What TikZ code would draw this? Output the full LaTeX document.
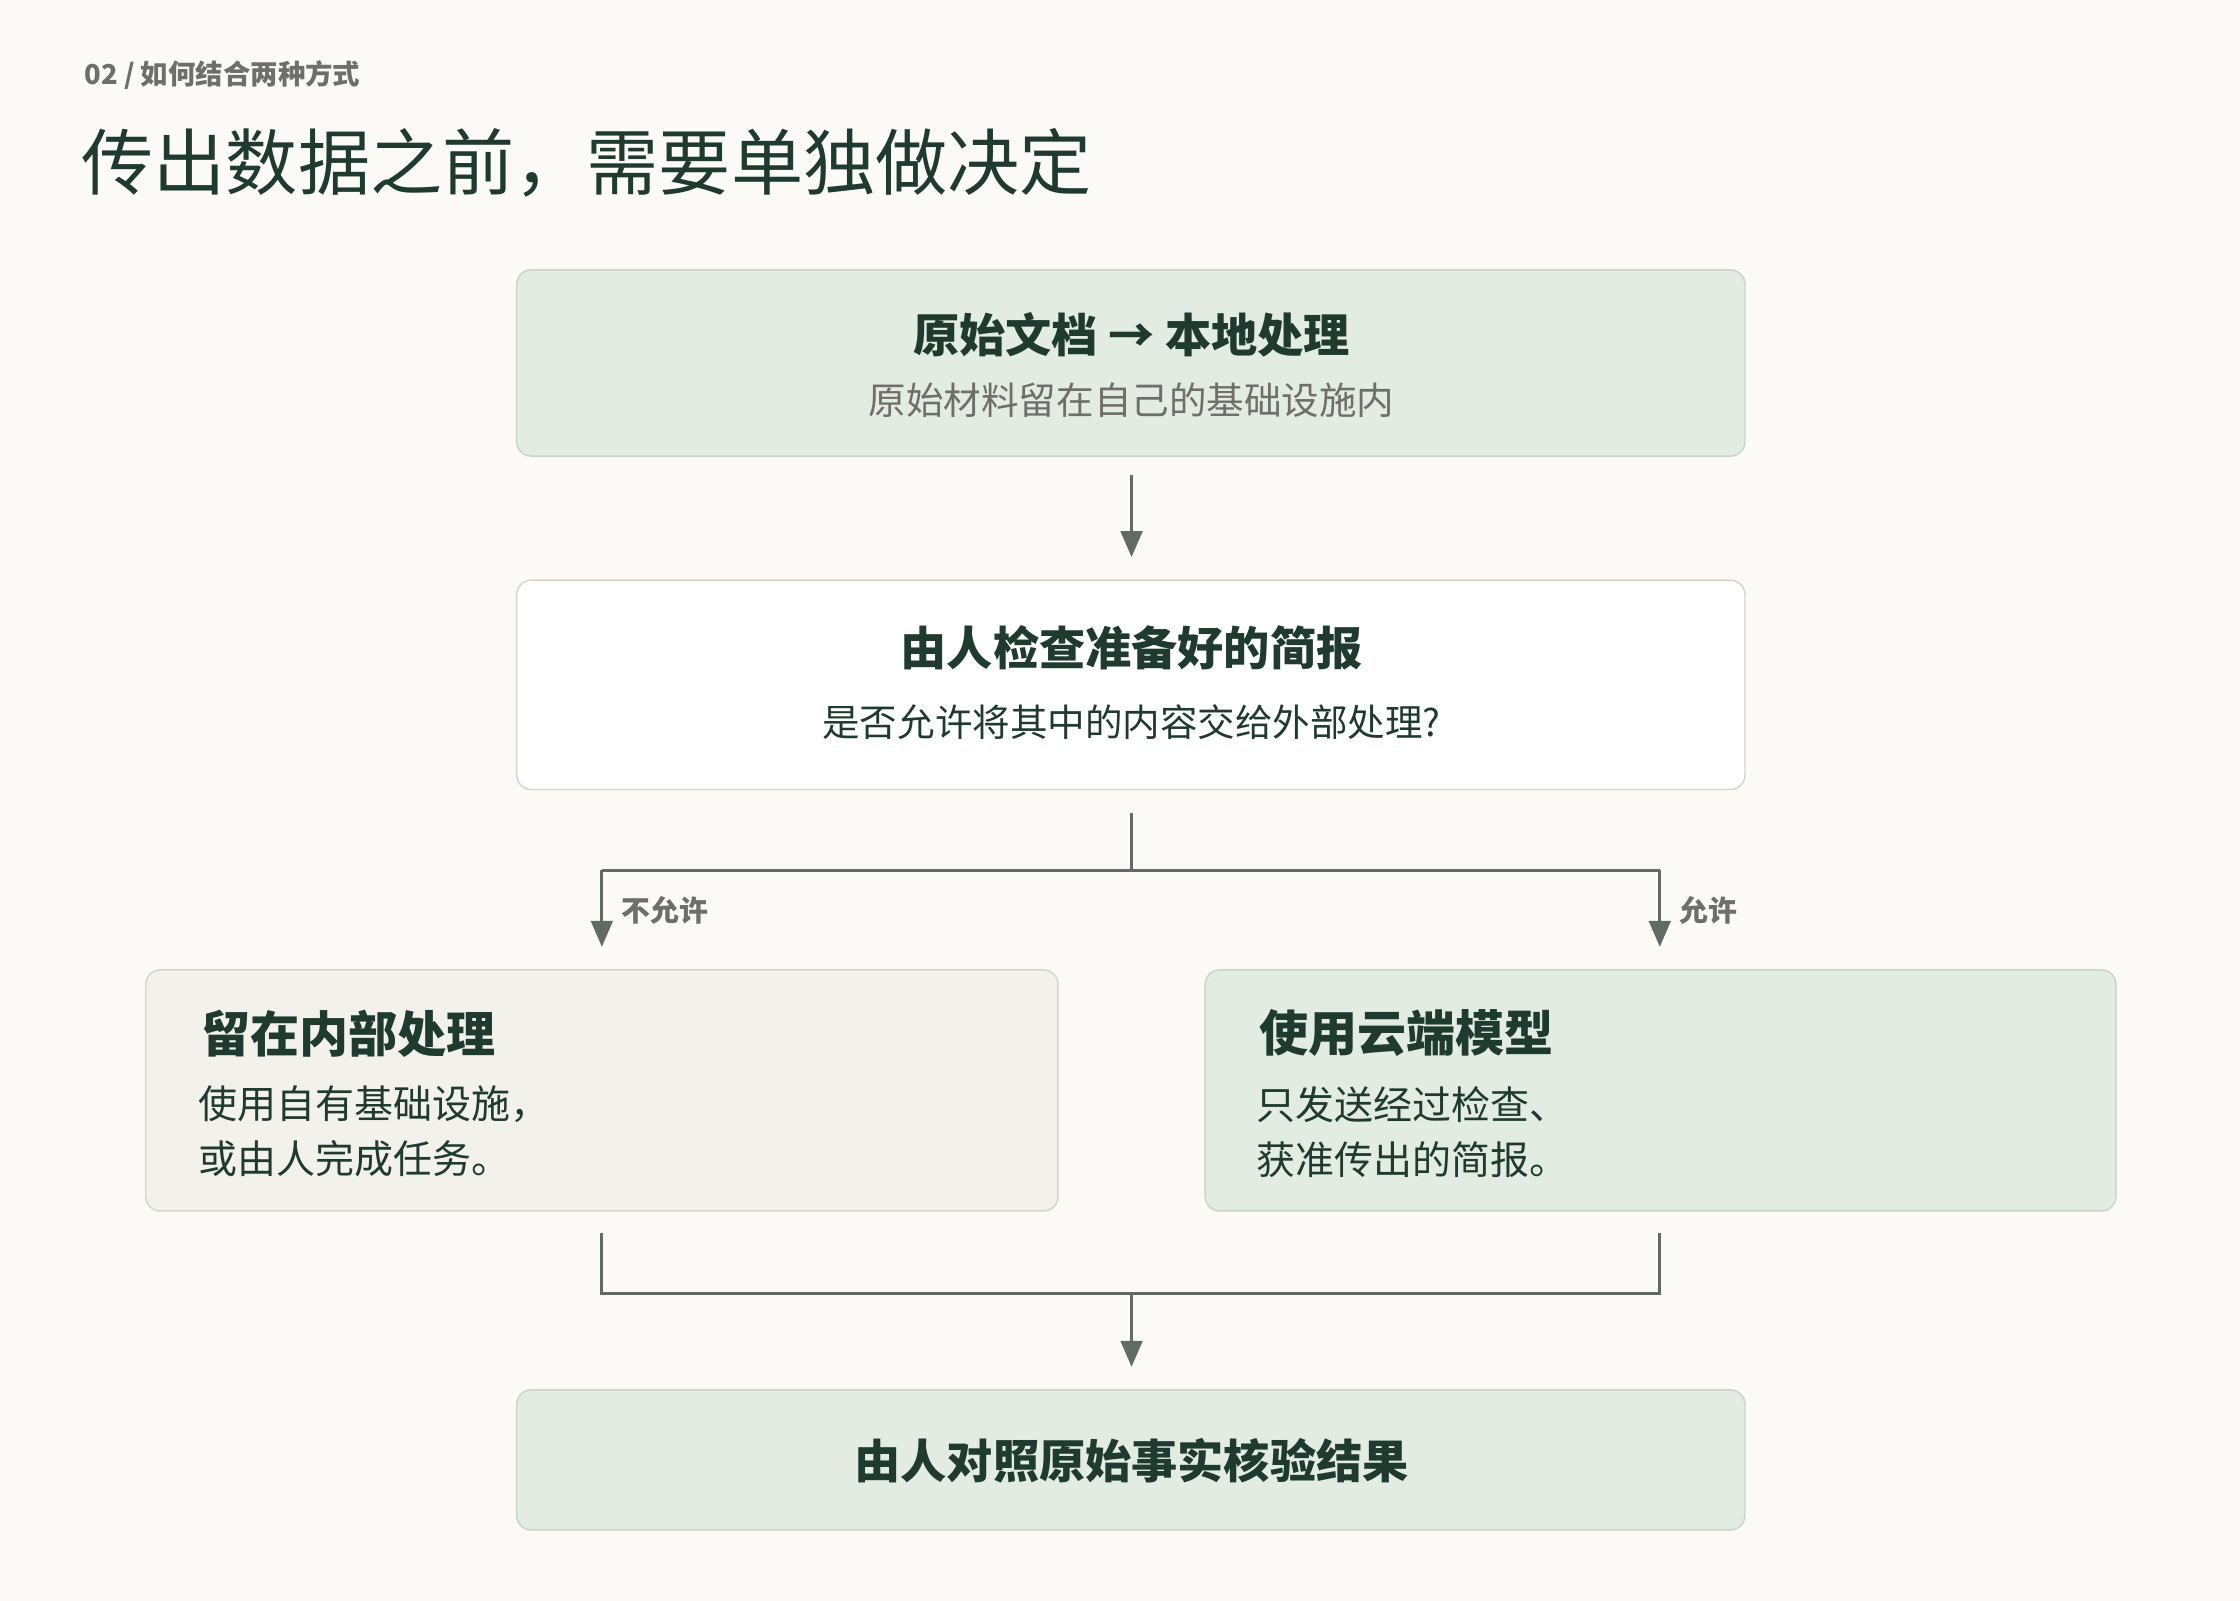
\documentclass[tikz,border=0pt]{standalone}
\usepackage{fontspec}
\setmainfont{Noto Sans CJK SC}
\newfontfamily\cjkb{Noto Sans CJK SC}[BoldFont={* Bold}]
\usetikzlibrary{arrows.meta}
\definecolor{bgc}{HTML}{FBFAF7}
\definecolor{gfill}{HTML}{E3ECE3}
\definecolor{gline}{HTML}{C8D5C8}
\definecolor{bfill}{HTML}{F3F1EC}
\definecolor{bline}{HTML}{D6D3CB}
\definecolor{dark}{HTML}{1F3A2E}
\definecolor{gray}{HTML}{6E6E6A}
\definecolor{conn}{HTML}{5F6B64}
\begin{document}
\begin{tikzpicture}[x=1pt,y=-1pt,
 box/.style={draw=gline,line width=1pt,rounded corners=10pt},
 ttl/.style={font=\fontsize{32}{36}\selectfont\bfseries,text=dark},
 sub/.style={font=\fontsize{26}{30}\selectfont,text=gray},
 body/.style={font=\fontsize{27}{38}\selectfont,text=dark,align=left},
 ln/.style={draw=conn,line width=2pt},
 arr/.style={ln,-{Triangle[length=18pt,width=15pt]}},
 lab/.style={font=\fontsize{20}{22}\selectfont\bfseries,text=gray,anchor=west}]
\fill[bgc] (0,0) rectangle (1552,1109);
\useasboundingbox (0,0) rectangle (1552,1109);
\node[anchor=west,font=\fontsize{19}{22}\selectfont\bfseries,text=gray] (kick) at (55,52) {02 / 如何结合两种方式};
\node[anchor=west,font=\fontsize{50}{56}\selectfont,text=dark] (title) at (53,113) {传出数据之前，需要单独做决定};
% box1
\path[box,fill=gfill] (358,187) rectangle (1209,316);
\node[ttl] (t1) at (784,232) {原始文档 → 本地处理};
\node[sub] (s1) at (784,277) {原始材料留在自己的基础设施内};
\coordinate (a1) at (784,329); \coordinate (a2) at (784,386);
\draw[arr] (a1) -- (a2);
% box2
\path[box,draw=bline,fill=white] (358,402) rectangle (1209,547);
\node[ttl] (t2) at (784,449) {由人检查准备好的简报};
\node[sub,text=dark] (s2) at (784,500) {是否允许将其中的内容交给外部处理?};
\coordinate (b0) at (784,563); \coordinate (bm) at (784,603);
\coordinate (bl) at (417,603); \coordinate (br) at (1150,603);
\coordinate (bl2) at (417,656); \coordinate (br2) at (1150,656);
\draw[ln] (b0) -- (bm);
\draw[ln] (bl) -- (br);
\draw[arr] (bl) -- (bl2);
\draw[arr] (br) -- (br2);
\node[lab] (l1) at (427,631) {不允许};
\node[lab] (l2) at (1160,631) {允许};
% box3
\path[box,draw=bline,fill=bfill] (101,672) rectangle (733,839);
\node[ttl,anchor=west,font=\fontsize{34}{38}\selectfont\bfseries] (t3) at (136,716) {留在内部处理};
\node[body,anchor=north west] (s3) at (134,749) {使用自有基础设施，\\或由人完成任务。};
% box4
\path[box,fill=gfill] (835,672) rectangle (1466,839);
\node[ttl,anchor=west,font=\fontsize{34}{38}\selectfont\bfseries] (t4) at (869,716) {使用云端模型};
\node[body,anchor=north west] (s4) at (867,749) {只发送经过检查、\\获准传出的简报。};
% merge
\coordinate (c1) at (417,854); \coordinate (c2) at (417,896);
\coordinate (c3) at (1150,896); \coordinate (c4) at (1150,854);
\coordinate (cm) at (784,896); \coordinate (ce) at (784,947);
\draw[ln] (c1) -- (c2) -- (c3) -- (c4);
\draw[arr] (cm) -- (ce);
% box5
\path[box,fill=gfill] (358,963) rectangle (1209,1060);
\node[ttl] (t5) at (784,1012) {由人对照原始事实核验结果};
\end{tikzpicture}
\end{document}
